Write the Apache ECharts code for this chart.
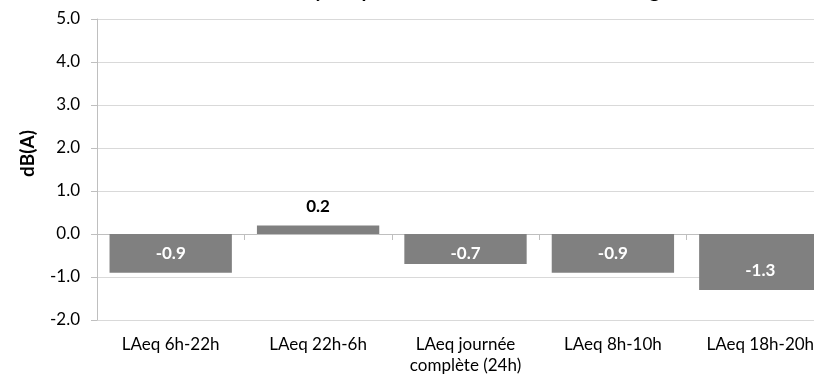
<!DOCTYPE html>
<html>
<head>
<meta charset="utf-8">
<script src="https://cdn.jsdelivr.net/npm/echarts@6/dist/echarts.min.js"></script>
<style>
  html, body { margin: 0; padding: 0; background: #fff; overflow: hidden; }
  #chart { width: 814px; height: 374px; }
</style>
</head>
<body>
<div id="chart"></div>
<script>
// Noise level differences per period, in dB(A)
const categories = ['LAeq 6h-22h', 'LAeq 22h-6h', 'LAeq journée\ncomplète (24h)', 'LAeq 8h-10h', 'LAeq 18h-20h'];
const deltas = [-0.9, 0.2, -0.7, -0.9, -1.3];
const titleText = 'Écart moyen après fermeture de la voie sur berge';
const yName = 'dB(A)';

const FONT = 'Lato, "Open Sans", sans-serif';
const LABEL_SIZE = 17;
const chart = echarts.init(document.getElementById('chart'), null, { renderer: 'canvas' });

// Labels of negative bars sit near the bar end, but never closer than
// a fixed gap to the zero line when the bar is short.
function barLabels(inner) {
  return deltas.map(v => {
    if (v >= 0) {
      return { value: v, label: { position: 'top', color: '#000', distance: 10 } };
    }
    let distance = 11;
    if (inner) {
      const zero = chart.convertToPixel({ yAxisIndex: 0 }, 0);
      const end = chart.convertToPixel({ yAxisIndex: 0 }, v);
      distance = Math.max(0, Math.min(11, (end - zero) - 28));
    }
    return { value: v, label: { position: 'insideBottom', color: '#fff', distance } };
  });
}

chart.setOption({
  animation: false,
  title: {
    text: titleText,
    left: 448,
    textAlign: 'center',
    top: -24,
    textStyle: { fontFamily: FONT, fontSize: 20, fontWeight: 'bold', color: '#000' }
  },
  grid: {
    left: 97, width: 737, top: 19, bottom: 54,
    containLabel: false,
    outerBoundsMode: 'none'
  },
  xAxis: [
    {
      // axis line along zero with boundary ticks
      type: 'category',
      data: categories,
      axisLine: { onZero: true, lineStyle: { color: '#bfbfbf', width: 1 } },
      axisTick: { show: true, length: 6, lineStyle: { color: '#bfbfbf' } },
      axisLabel: { show: false },
      splitLine: { show: false }
    },
    {
      // category labels along the bottom
      type: 'category',
      data: categories,
      position: 'bottom',
      axisLine: { show: false },
      axisTick: { show: false },
      axisLabel: {
        margin: 14,
        fontFamily: FONT,
        fontSize: 17,
        lineHeight: 21,
        color: '#000'
      }
    }
  ],
  yAxis: {
    type: 'value',
    min: -2,
    max: 5,
    interval: 1,
    name: yName,
    nameLocation: 'middle',
    nameGap: 60,
    nameRotate: 90,
    nameTextStyle: {
      fontFamily: FONT, fontSize: 19, fontWeight: 'bold', color: '#000',
      padding: [0, 0, 0, 32]
    },
    axisLine: { show: true, lineStyle: { color: '#bfbfbf' } },
    axisTick: { show: true, length: 6, lineStyle: { color: '#bfbfbf' } },
    axisLabel: {
      margin: 17,
      fontFamily: FONT,
      fontSize: 17,
      color: '#000',
      formatter: v => v.toFixed(1)
    },
    splitLine: { lineStyle: { color: '#d9d9d9', width: 1 } }
  },
  series: [{
    type: 'bar',
    xAxisIndex: 0,
    data: barLabels(false),
    barCategoryGap: '17%',
    itemStyle: { color: '#808080' },
    label: {
      show: true,
      fontFamily: FONT,
      fontSize: LABEL_SIZE,
      fontWeight: 'bold',
      formatter: p => p.value.toFixed(1)
    }
  }]
});

chart.setOption({ series: [{ data: barLabels(true) }] });
</script>
</body>
</html>
